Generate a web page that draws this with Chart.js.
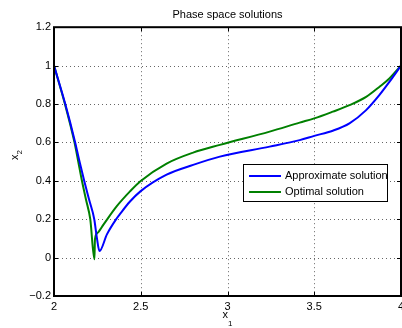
<!DOCTYPE html>
<html>
<head>
<meta charset="utf-8">
<script src="https://cdn.jsdelivr.net/npm/chart.js@4.4.1/dist/chart.umd.min.js"></script>
<style>
  html, body { margin: 0; padding: 0; background: #fff; }
  #c { display: block; }
</style>
</head>
<body>
<canvas id="c" width="402" height="328"></canvas>
<script>
// phase space: approximate vs optimal trajectory (x1, x2)
const approxX = [2.000, 2.065, 2.122, 2.145, 2.174, 2.203, 2.232, 2.247, 2.262, 2.305, 2.362, 2.381, 2.438, 2.498, 2.649, 2.802, 2.956, 3.243, 3.416, 3.500, 3.607, 3.703, 3.799, 3.875, 3.933, 4.000];
const approxY = [1.000, 0.800, 0.600, 0.508, 0.400, 0.300, 0.200, 0.104, 0.034, 0.121, 0.205, 0.228, 0.292, 0.345, 0.432, 0.483, 0.526, 0.578, 0.612, 0.634, 0.661, 0.699, 0.768, 0.846, 0.915, 1.000];
const optX = [2.000, 2.063, 2.118, 2.138, 2.161, 2.185, 2.209, 2.233, 2.236, 2.250, 2.285, 2.362, 2.438, 2.498, 2.649, 2.802, 2.956, 3.243, 3.416, 3.500, 3.607, 3.703, 3.799, 3.875, 3.933, 4.000];
const optY = [1.000, 0.800, 0.600, 0.508, 0.400, 0.300, 0.200, -0.009, 0.095, 0.128, 0.172, 0.268, 0.345, 0.398, 0.490, 0.547, 0.587, 0.656, 0.703, 0.725, 0.760, 0.794, 0.837, 0.889, 0.933, 1.000];
const xTicks = [2, 2.5, 3, 3.5, 4];
const yTicks = [-0.2, 0, 0.2, 0.4, 0.6, 0.8, 1.0, 1.2];
const seriesNames = ['Approximate solution', 'Optimal solution'];
const seriesColors = ['#0000ff', '#008000'];

const FONT = '"Liberation Sans", Arial, Helvetica, sans-serif';
const pts = (xs, ys) => xs.map((x, i) => ({ x, y: ys[i] }));
const fmt = (v) => String(Math.round(v * 10) / 10).replace('-', '\u2212');

// grade pontilhada (antes das curvas)
const grade = {
  id: 'grade',
  beforeDatasetsDraw(chart) {
    const { ctx, chartArea: a, scales: { x, y } } = chart;
    ctx.save();
    ctx.strokeStyle = '#666';
    ctx.lineWidth = 1;
    ctx.setLineDash([1, 3]);
    ctx.beginPath();
    for (const v of xTicks.slice(1, -1)) {
      const p = Math.round(x.getPixelForValue(v)) + 0.5;
      ctx.moveTo(p, a.top); ctx.lineTo(p, a.bottom);
    }
    for (const v of yTicks.slice(1, -1)) {
      const p = Math.round(y.getPixelForValue(v)) + 0.5;
      ctx.moveTo(a.left, p); ctx.lineTo(a.right, p);
    }
    ctx.stroke();
    ctx.restore();
  }
};

// caixa, ticks para dentro, legenda e títulos dos eixos (estilo MATLAB)
const moldura = {
  id: 'moldura',
  afterDatasetsDraw(chart) {
    const { ctx, chartArea: a, scales: { x, y } } = chart;
    ctx.save();
    ctx.strokeStyle = '#000';
    ctx.lineWidth = 1;
    ctx.beginPath();
    for (const v of xTicks) {
      const p = Math.round(x.getPixelForValue(v)) + 0.5;
      ctx.moveTo(p, a.bottom); ctx.lineTo(p, a.bottom - 4);
      ctx.moveTo(p, a.top); ctx.lineTo(p, a.top + 4);
    }
    for (const v of yTicks) {
      const p = Math.round(y.getPixelForValue(v)) + 0.5;
      ctx.moveTo(a.left, p); ctx.lineTo(a.left + 4, p);
      ctx.moveTo(a.right, p); ctx.lineTo(a.right - 4, p);
    }
    ctx.stroke();
    ctx.lineWidth = 2;
    ctx.strokeRect(a.left, a.top, a.right - a.left, a.bottom - a.top);

    // legenda
    const lx = 243, ly = 164, lw = 144, lh = 37;
    ctx.fillStyle = '#fff';
    ctx.fillRect(lx, ly, lw, lh);
    ctx.lineWidth = 1;
    ctx.strokeRect(lx + 0.5, ly + 0.5, lw, lh);
    ctx.font = '11px ' + FONT;
    ctx.textBaseline = 'middle';
    ctx.textAlign = 'left';
    chart.data.datasets.forEach((ds, i) => {
      const yy = ly + 12 + i * 16;
      ctx.strokeStyle = ds.borderColor;
      ctx.lineWidth = 2;
      ctx.beginPath(); ctx.moveTo(lx + 6, yy); ctx.lineTo(lx + 38, yy); ctx.stroke();
      ctx.fillStyle = '#000';
      ctx.fillText(ds.label, lx + 42, yy);
    });

    // títulos dos eixos com subscrito
    ctx.fillStyle = '#000';
    ctx.textBaseline = 'alphabetic';
    ctx.font = '11px ' + FONT;
    ctx.fillText('x', 222.5, 318);
    ctx.font = '8px ' + FONT;
    ctx.fillText('1', 228, 326);
    ctx.translate(18, 160);
    ctx.rotate(-Math.PI / 2);
    ctx.font = '11px ' + FONT;
    ctx.fillText('x', 0, 0);
    ctx.font = '8px ' + FONT;
    ctx.fillText('2', 5.5, 4);
    ctx.restore();
  }
};

new Chart(document.getElementById('c'), {
  type: 'scatter',
  data: {
    datasets: [
      { label: seriesNames[0], data: pts(approxX, approxY), borderColor: seriesColors[0] },
      { label: seriesNames[1], data: pts(optX, optY), borderColor: seriesColors[1] },
    ],
  },
  options: {
    responsive: false,
    animation: false,
    devicePixelRatio: 1,
    events: [],
    layout: { padding: { left: 0, right: 1, top: 0, bottom: 0 } },
    elements: {
      line: { borderWidth: 2, cubicInterpolationMode: 'monotone', fill: false },
      point: { radius: 0 },
    },
    datasets: { scatter: { showLine: true } },
    plugins: {
      legend: { display: false },
      tooltip: { enabled: false },
      title: {
        display: true,
        fullSize: false,
        text: 'Phase space solutions',
        color: '#000',
        font: { family: FONT, size: 11, weight: 'normal' },
        padding: { top: 8, bottom: 6 },
      },
    },
    scales: {
      x: {
        type: 'linear', min: 2, max: 4,
        afterBuildTicks: (s) => { s.ticks = xTicks.map(v => ({ value: v })); },
        afterFit: (s) => { s.height = 32; s.paddingLeft = 0; s.paddingRight = 0; },
        ticks: { color: '#000', font: { family: FONT, size: 11 }, padding: 4, maxRotation: 0, autoSkip: false, callback: fmt },
        grid: { display: false, drawTicks: false },
        border: { display: false },
      },
      y: {
        type: 'linear', min: -0.2, max: 1.2,
        afterBuildTicks: (s) => { s.ticks = yTicks.map(v => ({ value: v })); },
        afterFit: (s) => { s.width = 54; s.paddingTop = 0; s.paddingBottom = 0; },
        ticks: { color: '#000', font: { family: FONT, size: 11 }, padding: 3, autoSkip: false, callback: fmt },
        grid: { display: false, drawTicks: false },
        border: { display: false },
      },
    },
  },
  plugins: [grade, moldura],
});
</script>
</body>
</html>
